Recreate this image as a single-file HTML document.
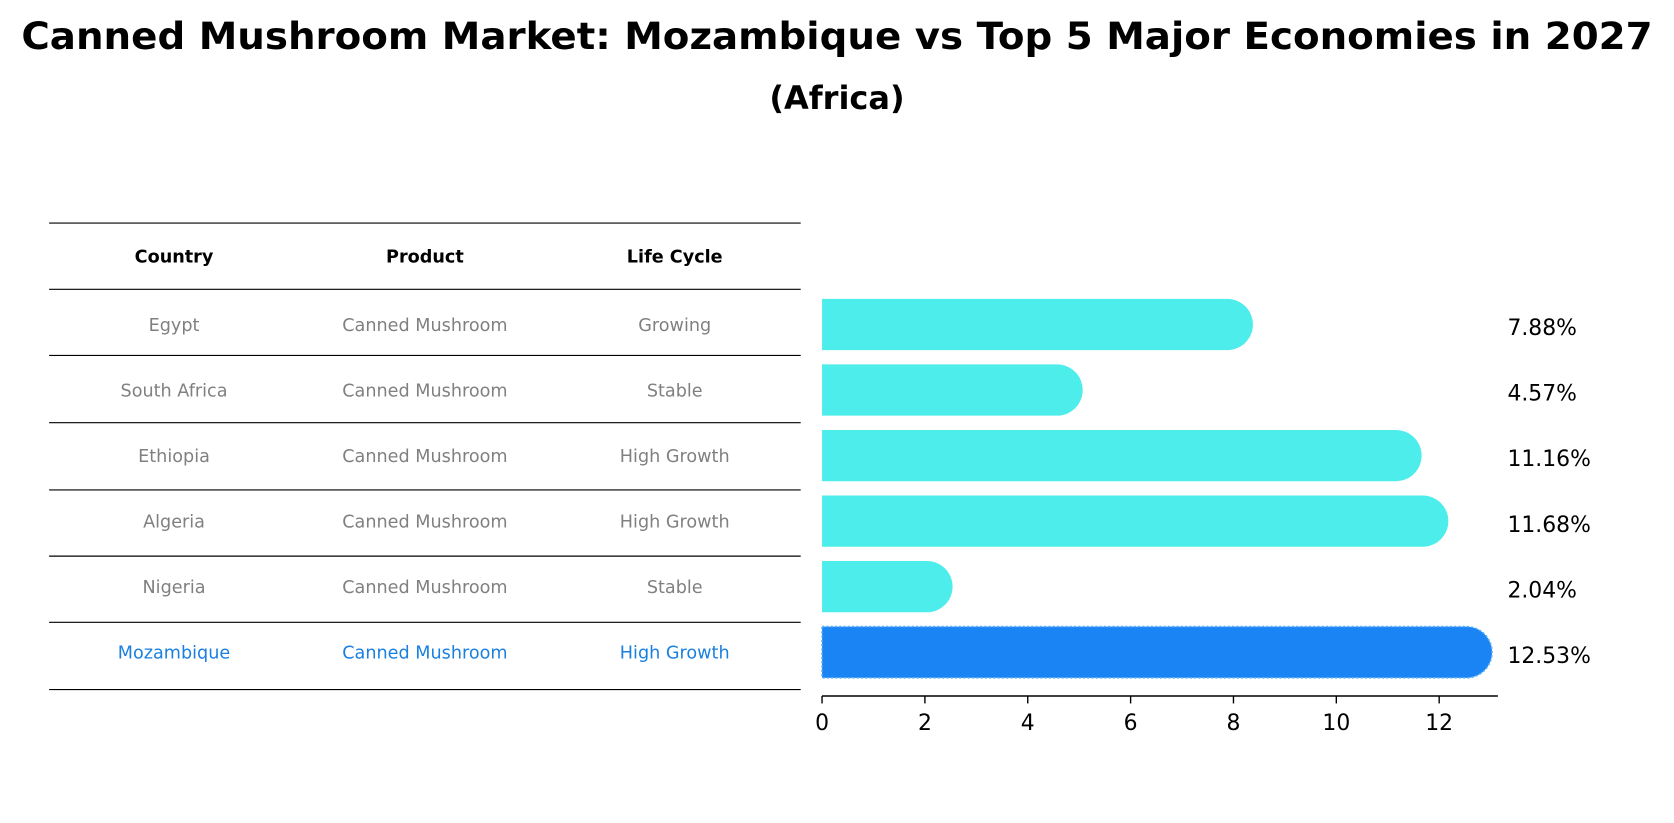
<!DOCTYPE html>
<html><head><meta charset="utf-8"><style>
body{margin:0;background:#fff;font-family:"Liberation Sans","DejaVu Sans",sans-serif}
#c{position:relative;width:1674px;height:823px;overflow:hidden}
</style></head><body>
<div id="c">
<svg width="1674" height="823" viewBox="0 0 1568 771" preserveAspectRatio="none" font-family="DejaVu Sans, Liberation Sans, sans-serif">
<text x="784" y="46" text-anchor="middle" font-size="35" font-weight="bold" textLength="1528" lengthAdjust="spacingAndGlyphs">Canned Mushroom Market: Mozambique vs Top 5 Major Economies in 2027</text>
<text x="784" y="102" text-anchor="middle" font-size="30" font-weight="bold">(Africa)</text>
<g id="table"></g>
<g id="bars"></g>
</svg>
</div>
<script>
const countries=["Egypt","South Africa","Ethiopia","Algeria","Nigeria","Mozambique"];
const products=["Canned Mushroom","Canned Mushroom","Canned Mushroom","Canned Mushroom","Canned Mushroom","Canned Mushroom"];
const lifeCycles=["Growing","Stable","High Growth","High Growth","Stable","High Growth"];
const values=[7.88,4.57,11.16,11.68,2.04,12.53];
const ticks=[0,2,4,6,8,10,12];
const NS="http://www.w3.org/2000/svg";
function mk(p,t,a){const e=document.createElementNS(NS,t);for(const k in a)e.setAttribute(k,a[k]);p.appendChild(e);return e;}
const x0=770,ppu=48.17;
const xs=v=>x0+v*ppu;
const rowY=i=>304+i*61.4;
const tbl=document.getElementById('table');
const lines=[209,271,333,396,459,521,583,646];
lines.forEach((y,i)=>{const l=mk(tbl,'line',{x1:46,x2:750,y1:y,y2:y,stroke:'#000','stroke-width':1.1});

});
const colX=[163,398,632];
["Country","Product","Life Cycle"].forEach((h,j)=>{const t=mk(tbl,'text',{x:colX[j],y:246,'text-anchor':'middle','font-size':16.5,'font-weight':'bold'});t.textContent=h;

});
countries.forEach((c,i)=>{const hl=i===countries.length-1;const col=hl?'#1a80e0':'#808080';
[c,products[i],lifeCycles[i]].forEach((s,j)=>{const t=mk(tbl,'text',{x:colX[j],y:rowY(i)+6,'text-anchor':'middle','font-size':16.5,fill:col});t.textContent=s;

});});
const g=document.getElementById('bars');
const h=48,r=24;
values.forEach((v,i)=>{const hl=i===values.length-1;const col=hl?'#1a84f5':'#4dedec';const cy=rowY(i);
const xe=xs(v);
const p=mk(g,'path',{d:`M${x0},${cy-h/2} H${xe} A${r},${r} 0 0 1 ${xe},${cy+h/2} H${x0} Z`,fill:col});
if(hl){p.setAttribute('stroke','#5aaef5');p.setAttribute('stroke-dasharray','2,2');p.setAttribute('stroke-width','1.5');}


const t=mk(g,'text',{x:1412,y:cy+10,'font-size':20.5});t.textContent=v.toFixed(2)+'%';

});
const ax=mk(g,'line',{x1:x0,x2:1403,y1:652,y2:652,stroke:'#000','stroke-width':1.4});


ticks.forEach(tv=>{const x=xs(tv);const l=mk(g,'line',{x1:x,x2:x,y1:652,y2:659,stroke:'#000','stroke-width':1.3});


const t=mk(g,'text',{x:x,y:684,'text-anchor':'middle','font-size':20.5});t.textContent=tv;

});
</script>
</body></html>
